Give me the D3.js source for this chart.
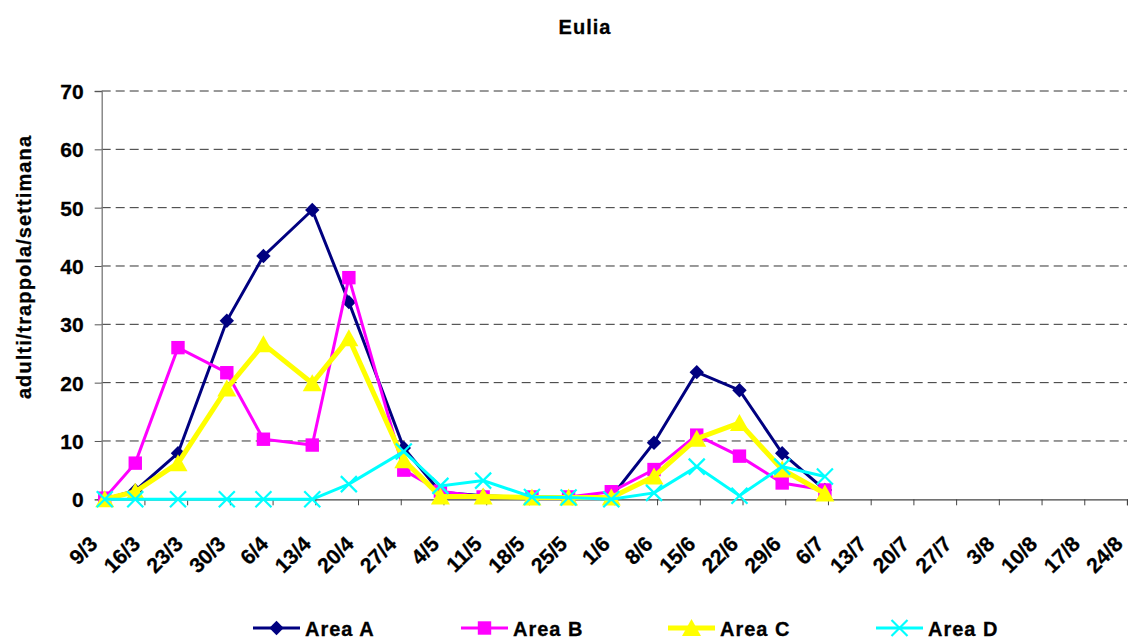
<!DOCTYPE html>
<html>
<head>
<meta charset="utf-8">
<script src="https://cdn.jsdelivr.net/npm/d3@7/dist/d3.min.js"></script>
<style>
  html, body { margin: 0; padding: 0; background: #fff; }
  svg { display: block; }
  text { font-family: "Liberation Sans", Arial, sans-serif; font-weight: bold; fill: #000; stroke: #000; stroke-width: 0.3px; }
</style>
</head>
<body>
<svg id="chart" width="1128" height="638"></svg>
<script>
// ---------------- data ----------------
const chartTitle = "Eulia";
const yAxisTitle = "adulti/trappola/settimana";
const yTicks = [0, 10, 20, 30, 40, 50, 60, 70];
const tickLabels = ["9/3","16/3","23/3","30/3","6/4","13/4","20/4","27/4","4/5","11/5","18/5","25/5",
                    "1/6","8/6","15/6","22/6","29/6","6/7","13/7","20/7","27/7","3/8","10/8","17/8","24/8"];
const sampleDates = ["9/3","14/3","21/3","29/3","4/4","12/4","18/4","27/4","3/5","10/5","18/5","24/5",
                     "31/5","7/6","14/6","21/6","28/6","5/7"];
const seriesNames = ["Area A", "Area B", "Area C", "Area D"];
const areaA = [0, 1.5, 7.9, 30.6, 41.7, 49.6, 33.8, 8.8, 1.2, 0.6, 0.3, 0.3, 0.4, 9.7, 21.8, 18.7, 7.9, 1.6];
const areaB = [0.2, 6.2, 26.0, 21.7, 10.3, 9.3, 38.0, 5.0, 1.4, 0.4, 0.4, 0.4, 1.3, 5.1, 11.0, 7.4, 2.8, 1.6];
const areaC = [0, 1.3, 6.2, 19.0, 26.6, 19.9, 27.6, 6.7, 0.5, 0.5, 0.3, 0.3, 0.3, 3.9, 10.4, 13.1, 5.1, 1.0];
const areaD = [0, 0, 0, 0, 0, 0, 2.6, 8.2, 2.3, 3.2, 0.4, 0.3, 0, 1.1, 5.6, 0.6, 5.6, 3.9];
const YEAR = 2007;

// ---------------- helpers ----------------
const parseDM = s => { const [d, m] = s.split("/").map(Number); return new Date(Date.UTC(YEAR, m - 1, d)); };
const HALF_DAY = 12 * 3600 * 1000; // date-axis: a day's value sits in the middle of its day slot

const svg = d3.select("#chart");
const plot = { left: 101.7, right: 1127, top: 91, bottom: 499.3 };

const tickDates = tickLabels.map(parseDM);
const x = d3.scaleUtc().domain([tickDates[0], tickDates[tickDates.length - 1]]).range([plot.left, plot.right]);
const y = d3.scaleLinear().domain([0, 70]).range([plot.bottom, plot.top]);
const xPos = s => x(new Date(parseDM(s).getTime() + HALF_DAY));

const styles = [
  { name: seriesNames[0], values: areaA, color: "#000080", width: 3, marker: "diamond" },
  { name: seriesNames[1], values: areaB, color: "#FF00FF", width: 3, marker: "square" },
  { name: seriesNames[2], values: areaC, color: "#FFFF00", width: 5, marker: "triangle" },
  { name: seriesNames[3], values: areaD, color: "#00FFFF", width: 3, marker: "cross" }
];

function drawMarker(g, type, color, cx, cy) {
  if (type === "diamond") {
    const r = 7.2;
    g.append("path").attr("d", `M${cx},${cy - r}L${cx + r},${cy}L${cx},${cy + r}L${cx - r},${cy}Z`).attr("fill", color);
  } else if (type === "square") {
    const r = 6.7;
    g.append("rect").attr("x", cx - r).attr("y", cy - r).attr("width", 2 * r).attr("height", 2 * r).attr("fill", color);
  } else if (type === "triangle") {
    const w = 9.5, h = 16;
    g.append("path").attr("d", `M${cx},${cy - h / 2 - 1}L${cx + w},${cy + h / 2}L${cx - w},${cy + h / 2}Z`).attr("fill", color);
  } else if (type === "cross") {
    const r = 8;
    g.append("path").attr("d", `M${cx - r},${cy - r}L${cx + r},${cy + r}M${cx - r},${cy + r}L${cx + r},${cy - r}`)
      .attr("stroke", color).attr("stroke-width", 2.2).attr("fill", "none");
  }
}

// ---------------- title ----------------
svg.append("text").attr("x", 585).attr("y", 34).attr("text-anchor", "middle")
  .style("font-size", "20px").style("letter-spacing", "1px").text(chartTitle);

// y axis title
svg.append("text").attr("transform", "translate(31,267) rotate(-90)").attr("text-anchor", "middle")
  .style("font-size", "20px").style("letter-spacing", "1.1px").text(yAxisTitle);

// ---------------- gridlines ----------------
svg.append("g").selectAll("line").data(yTicks.filter(v => v > 0)).join("line")
  .attr("x1", plot.left).attr("x2", plot.right)
  .attr("y1", d => y(d)).attr("y2", d => y(d))
  .attr("stroke", "#333").attr("stroke-width", 1).attr("stroke-dasharray", "9,5");

// ---------------- axes ----------------
const yAxis = svg.append("g").attr("transform", `translate(${plot.left},0)`)
  .call(d3.axisLeft(y).tickValues(yTicks).tickSize(7).tickPadding(11).tickFormat(d3.format("d")));
yAxis.select(".domain").attr("stroke", "#777").attr("stroke-width", 1.3);
yAxis.selectAll(".tick line").attr("stroke", "#555");
yAxis.selectAll(".tick text").style("font-size", "21px").style("font-family", '"Liberation Sans", Arial, sans-serif')
  .style("font-weight", "bold").attr("fill", "#000").attr("dy", "0.36em");

const xAxis = svg.append("g").attr("transform", `translate(0,${plot.bottom})`)
  .call(d3.axisBottom(x).tickValues(tickDates).tickSize(6).tickFormat(""));
xAxis.select(".domain").attr("stroke", "#444").attr("stroke-width", 1.3);
xAxis.selectAll(".tick line").attr("stroke", "#444");

// x tick labels, rotated
svg.append("g").selectAll("text").data(tickLabels).join("text")
  .attr("transform", (d, i) => `translate(${x(tickDates[i]) - 3},${plot.bottom + 46}) rotate(-45)`)
  .attr("text-anchor", "end")
  .style("font-size", "21px")
  .text(d => d);

// ---------------- series ----------------
const line = d3.line().x(d => d[0]).y(d => d[1]);
styles.forEach(s => {
  const pts = s.values.map((v, i) => [xPos(sampleDates[i]), y(v)]);
  const g = svg.append("g");
  g.append("path").attr("d", line(pts)).attr("fill", "none")
    .attr("stroke", s.color).attr("stroke-width", s.width).attr("stroke-linejoin", "miter");
  pts.forEach(p => drawMarker(g, s.marker, s.color, p[0], p[1]));
});

// ---------------- legend ----------------
const legendX = [253, 461, 668, 876];
const legY = 628;
styles.forEach((s, i) => {
  const g = svg.append("g");
  const x0 = legendX[i], x1 = x0 + 47;
  g.append("line").attr("x1", x0).attr("x2", x1).attr("y1", legY).attr("y2", legY)
    .attr("stroke", s.color).attr("stroke-width", s.width);
  drawMarker(g, s.marker, s.color, (x0 + x1) / 2, legY);
  g.append("text").attr("x", x1 + 5).attr("y", legY + 7.5)
    .style("font-size", "20px").style("letter-spacing", "1px").text(s.name);
});
</script>
</body>
</html>
